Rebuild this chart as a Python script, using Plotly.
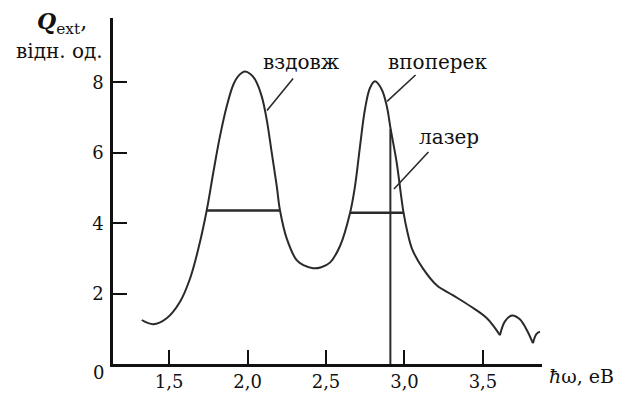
import plotly.graph_objects as go

# ---- data ----
curve_x = [1.326, 1.40, 1.485, 1.57, 1.634, 1.687, 1.74, 1.782, 1.825, 1.868, 1.91, 1.945,
           1.984, 2.018, 2.048, 2.09, 2.122, 2.154, 2.186, 2.207, 2.25, 2.313, 2.36, 2.417,
           2.47, 2.525, 2.59, 2.653, 2.685, 2.717, 2.748, 2.78, 2.812, 2.855, 2.887, 2.912,
           2.95, 2.992, 3.02, 3.05, 3.118, 3.207, 3.31, 3.42, 3.525, 3.608]
curve_y = [1.25, 1.13, 1.30, 1.77, 2.43, 3.28, 4.36, 5.44, 6.48, 7.33, 7.94, 8.2,
           8.31, 8.24, 8.08, 7.61, 6.95, 6.01, 5.06, 4.36, 3.56, 2.95, 2.8, 2.72,
           2.75, 2.88, 3.36, 4.29, 5.06, 6.2, 7.23, 7.84, 8.03, 7.8, 7.33, 6.67,
           5.73, 4.35, 3.72, 3.25, 2.71, 2.23, 1.95, 1.64, 1.30, 0.82]
tail1_x = [3.608, 3.64, 3.685, 3.735, 3.78, 3.818]
tail1_y = [0.82, 1.21, 1.38, 1.27, 0.96, 0.59]
tail2_x = [3.818, 3.84, 3.863]
tail2_y = [0.59, 0.85, 0.92]

fwhm1_x = [1.742, 2.207]
fwhm1_y = [4.36, 4.36]
fwhm2_x = [2.653, 2.995]
fwhm2_y = [4.30, 4.30]
laser_x = [2.91, 2.91]
laser_y = [0, 6.67]

x_ticks = [1.5, 2.0, 2.5, 3.0, 3.5]
x_tick_labels = ["1,5", "2,0", "2,5", "3,0", "3,5"]
y_ticks = [2, 4, 6, 8]
y_tick_labels = ["2", "4", "6", "8"]

labels = ["вздовж", "впоперек", "лазер"]
label_pos = [(2.347, 8.59), (3.21, 8.59), (3.283, 6.44)]
leader_from = [(2.30, 8.16), (3.08, 8.25), (3.162, 6.07)]
leader_to = [(2.124, 7.2), (2.889, 7.46), (2.933, 4.97)]

X_RANGE = [1.143, 3.876]
Y_RANGE = [0, 9.83]

FONT = "DejaVu Serif"
INK = "#2a2a2a"
TXT = "#111"

fig = go.Figure()
for xs, ys in [(curve_x, curve_y), (tail1_x, tail1_y), (tail2_x, tail2_y)]:
    fig.add_trace(go.Scatter(x=xs, y=ys, mode="lines",
                             line=dict(color=INK, width=2, shape="spline", smoothing=1.0),
                             hoverinfo="skip", showlegend=False, cliponaxis=False))
for xs, ys in [(fwhm1_x, fwhm1_y), (fwhm2_x, fwhm2_y)]:
    fig.add_trace(go.Scatter(x=xs, y=ys, mode="lines", line=dict(color=INK, width=2.5),
                             hoverinfo="skip", showlegend=False))
fig.add_trace(go.Scatter(x=laser_x, y=laser_y, mode="lines", line=dict(color=INK, width=2),
                         hoverinfo="skip", showlegend=False))

anns = []
for t, (lx, ly), (fx, fy), (tx, ty) in zip(labels, label_pos, leader_from, leader_to):
    anns.append(dict(x=lx, y=ly, xref="x", yref="y", text=t, showarrow=False,
                     font=dict(family=FONT, size=20, color=TXT)))
    anns.append(dict(x=tx, y=ty, ax=fx, ay=fy, xref="x", yref="y", axref="x", ayref="y",
                     text=" ", showarrow=True, arrowhead=0, arrowwidth=1.6, arrowcolor=INK,
                     font=dict(size=1)))

# axis titles
anns.append(dict(x=-0.119, y=0.985, xref="paper", yref="paper", xanchor="center", yanchor="middle",
                 text="<b><i>Q</i></b><sub>ext</sub>,", showarrow=False,
                 font=dict(family=FONT, size=22, color=TXT)))
anns.append(dict(x=-0.124, y=0.906, xref="paper", yref="paper", xanchor="center", yanchor="middle",
                 text="відн. од.", showarrow=False,
                 font=dict(family=FONT, size=20, color=TXT)))
anns.append(dict(x=1.012, y=-0.035, xref="paper", yref="paper", xanchor="left", yanchor="middle",
                 text="<i>ħ</i>ω, eB", showarrow=False,
                 font=dict(family=FONT, size=19, color=TXT)))
anns.append(dict(x=-0.016, y=-0.025, xref="paper", yref="paper", xanchor="right", yanchor="middle",
                 text="0", showarrow=False,
                 font=dict(family=FONT, size=18, color=TXT)))

fig.update_layout(
    width=619, height=394,
    margin=dict(l=113, r=77, t=18, b=30, autoexpand=False),
    paper_bgcolor="white", plot_bgcolor="white",
    showlegend=False,
    annotations=anns,
    xaxis=dict(range=X_RANGE, showgrid=False, zeroline=False, showline=True,
               linecolor=TXT, linewidth=2.5, ticks="inside", ticklen=14, tickwidth=2,
               tickcolor=TXT, tickvals=x_ticks, ticktext=x_tick_labels,
               ticklabelstandoff=0, automargin=False,
               tickfont=dict(family=FONT, size=18, color=TXT)),
    yaxis=dict(range=Y_RANGE, showgrid=False, zeroline=False, showline=True,
               linecolor=TXT, linewidth=2.5, ticks="inside", ticklen=14, tickwidth=2,
               tickcolor=TXT, tickvals=y_ticks, ticktext=y_tick_labels,
               ticklabelstandoff=3, automargin=False,
               tickfont=dict(family=FONT, size=18, color=TXT)),
)

fig.write_html("out.html")
